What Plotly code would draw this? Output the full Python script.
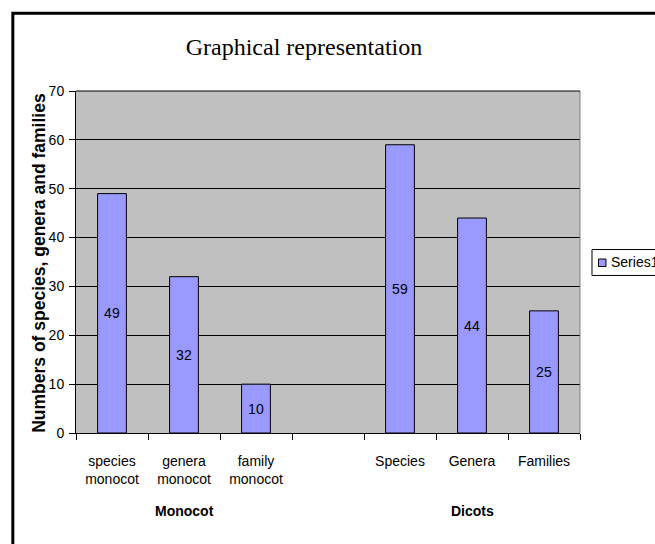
import plotly.graph_objects as go

# ---- data ----
categories = ["species<br>monocot", "genera<br>monocot", "family<br>monocot", " ",
              "Species", "Genera", "Families"]
values = [49, 32, 10, None, 59, 44, 25]
group_labels = ["Monocot", "Dicots"]
group_centers = ["genera<br>monocot", "Genera"]
series_name = "Series1"
y_ticks = [0, 10, 20, 30, 40, 50, 60, 70]

W, H = 655, 544
L, R, T, B = 75.7, 75.0, 90.5, 110.5
PW, PH = W - L - R, H - T - B

ARIAL = "Arial, Liberation Sans, sans-serif"
TIMES = "Times New Roman, Liberation Serif, serif"
BAR = "#9999FF"


def px_x(px):
    return (px - L) / PW


def px_y(py):
    return (H - B - py) / PH


fig = go.Figure()
fig.add_trace(go.Bar(
    x=categories, y=values, name=series_name,
    marker=dict(color=BAR, line=dict(color="black", width=1)),
    text=[("" if v is None else str(v)) for v in values],
    textposition="inside", insidetextanchor="middle", textangle=0,
    textfont=dict(family=ARIAL, size=14, color="black"),
    constraintext="none", showlegend=False,
))

annotations = []
for lab, cx in zip(group_labels, group_centers):
    annotations.append(dict(
        x=cx, xref="x", y=px_y(511.5), yref="paper", text="<b>%s</b>" % lab,
        showarrow=False, xanchor="center", yanchor="middle",
        font=dict(family=ARIAL, size=14, color="black")))

# y-axis title
annotations.append(dict(
    x=px_x(39), xref="paper", y=px_y(262.5), yref="paper",
    text="<b>Numbers of species, genera and families</b>", textangle=-90,
    showarrow=False, xanchor="center", yanchor="middle",
    font=dict(family=ARIAL, size=17.5, color="black")))

# legend text
annotations.append(dict(
    x=px_x(609), xref="paper", y=px_y(262.5), yref="paper",
    text=series_name, showarrow=False, xanchor="left", yanchor="middle",
    font=dict(family=ARIAL, size=14, color="black")))

shapes = [
    # chart border
    dict(type="rect", xref="paper", yref="paper",
         x0=px_x(12.5), x1=px_x(700), y0=px_y(600), y1=px_y(12.5),
         line=dict(color="black", width=3), fillcolor="rgba(0,0,0,0)", layer="above"),
    # plot-area right border (grey)
    dict(type="line", xref="paper", yref="paper", x0=1, x1=1, y0=0, y1=1,
         line=dict(color="#808080", width=1)),
    # top edge (gridline at 70)
    dict(type="line", xref="paper", yref="paper", x0=0, x1=1, y0=1, y1=1,
         line=dict(color="black", width=1)),
    # legend box
    dict(type="rect", xref="paper", yref="paper",
         x0=px_x(592), x1=px_x(720), y0=px_y(275.5), y1=px_y(249.5),
         line=dict(color="black", width=1), fillcolor="white"),
    # legend key
    dict(type="rect", xref="paper", yref="paper",
         x0=px_x(598.5), x1=px_x(606), y0=px_y(266.5), y1=px_y(259),
         line=dict(color="black", width=1), fillcolor=BAR),
]

fig.update_layout(
    width=W, height=H,
    margin=dict(l=L, r=R, t=T, b=B, pad=0, autoexpand=False),
    paper_bgcolor="white", plot_bgcolor="#C0C0C0",
    bargap=0.6, showlegend=False,
    title=dict(text="Graphical representation", x=304 / W, xref="container",
               xanchor="center", y=1 - 47 / H, yref="container", yanchor="middle",
               font=dict(family=TIMES, size=24, color="black")),
    xaxis=dict(type="category", categoryorder="array", categoryarray=categories,
               range=[-0.5, 6.5], tickson="boundaries", ticks="outside", ticklen=6,
               tickcolor="black", tickwidth=1, showline=True, linecolor="black",
               linewidth=1, showgrid=False, zeroline=False, ticklabelstandoff=15,
               tickfont=dict(family=ARIAL, size=14, color="black"), fixedrange=True),
    yaxis=dict(range=[0, 70], tickvals=y_ticks, ticks="outside", ticklen=6,
               tickcolor="black", showline=True, linecolor="black", linewidth=1,
               showgrid=True, gridcolor="black", gridwidth=1, zeroline=False,
               tickfont=dict(family=ARIAL, size=14, color="black"), ticklabelstandoff=2),
    annotations=annotations, shapes=shapes,
    font=dict(family=ARIAL, color="black"),
)

fig.write_html("out.html", config={"displayModeBar": False},
               post_script="document.body.style.margin='0';")
